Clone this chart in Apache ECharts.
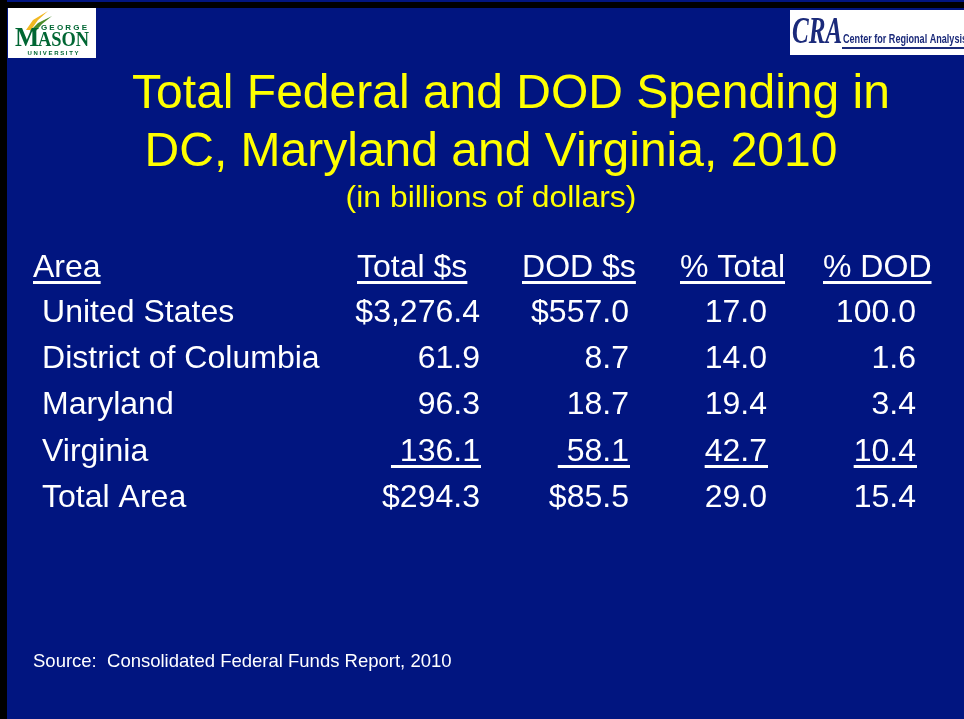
<!DOCTYPE html>
<html>
<head>
<meta charset="utf-8">
<script src="https://cdn.jsdelivr.net/npm/echarts@6/dist/echarts.min.js"></script>
<style>
  html, body { margin: 0; padding: 0; background: #011580; }
  #main { width: 964px; height: 719px; }
</style>
</head>
<body>
<div id="main"></div>
<script>
// table data
var headers = ['Area', 'Total $s', 'DOD $s', '% Total', '% DOD'];
var areas = ['United States', 'District of Columbia', 'Maryland', 'Virginia', 'Total Area'];
var totalSpend = [3276.4, 61.9, 96.3, 136.1, 294.3];
var dodSpend = [557.0, 8.7, 18.7, 58.1, 85.5];
var pctTotal = [17.0, 14.0, 19.4, 42.7, 29.0];
var pctDod = [100.0, 1.6, 3.4, 10.4, 15.4];
var dollarRows = [0, 4];      // rows shown with a $ sign
var underlinedRow = 3;        // Virginia row is underlined

var FONT = '"Liberation Sans", Arial, sans-serif';
var SERIF = '"Liberation Serif", serif';
var BG = '#011580';

var chart = echarts.init(document.getElementById('main'));

// width of a string, for the underlines
var ctx = document.createElement('canvas').getContext('2d');
function textWidth(str, font) {
  ctx.font = font;
  return ctx.measureText(str).width;
}

function fmt(v, dollar) {
  var s = v.toFixed(1).replace(/\B(?=(\d{3})+(?!\d))/g, ',');
  return dollar ? '$' + s : s;
}

// text at (x, y), optionally stretched horizontally by sx
function txt(str, x, y, font, color, align, sx) {
  return {
    type: 'text', x: x, y: y, scaleX: sx || 1,
    style: {
      text: str, x: 0, y: 0, fill: color, font: font,
      align: align || 'left', verticalAlign: 'middle'
    }
  };
}

function line(x1, x2, y, color, h) {
  return {
    type: 'rect',
    shape: { x: x1, y: y, width: x2 - x1, height: h || 3 },
    style: { fill: color || '#fff' }
  };
}

var g = [];
// frame
g.push({ type: 'rect', shape: { x: 0, y: 0, width: 964, height: 719 }, style: { fill: BG } });
g.push({ type: 'rect', shape: { x: 0, y: 0, width: 7, height: 719 }, style: { fill: '#000' } });
g.push({ type: 'rect', shape: { x: 0, y: 2, width: 964, height: 6 }, style: { fill: '#000' } });

// GMU logo
var GREEN = '#006633';
g.push({ type: 'rect', shape: { x: 8, y: 8, width: 88, height: 50 }, style: { fill: '#fff' } });
g.push({ type: 'polygon', shape: { points: [[26, 30], [33, 20], [48, 11], [38, 20], [31, 30]] }, style: { fill: '#f2b822' } });
g.push({ type: 'polygon', shape: { points: [[30, 31], [38, 23], [52, 16], [42, 24], [35, 32]] }, style: { fill: '#4a8c2a' } });
g.push(txt('G E O R G E', 64, 28, 'bold 8px ' + FONT, GREEN, 'center', 1));
g.push(txt('M', 15, 39, 'bold 27px ' + SERIF, GREEN, 'left', 0.95));
g.push(txt('ASON', 38, 41, 'bold 20px ' + SERIF, GREEN, 'left', 0.92));
g.push(txt('U N I V E R S I T Y', 53, 53, 'bold 6px ' + FONT, GREEN, 'center', 1));

// CRA logo
var NAVY = '#1b2a7a';
var craFont = 'bold 13px "Liberation Sans Narrow", ' + FONT;
var craLabel = 'Center for Regional Analysis';
g.push({ type: 'rect', shape: { x: 790, y: 10, width: 174, height: 45 }, style: { fill: '#fff' } });
g.push(txt('CRA', 792, 33, 'italic bold 38px ' + SERIF, NAVY, 'left', 0.66));
g.push(txt(craLabel, 843, 39, craFont, NAVY, 'left', 124 / textWidth(craLabel, craFont)));
g.push(line(842, 964, 47, NAVY, 2));

// titles
var YELLOW = '#ffff00';
var DY = 3;
g.push(txt('Total Federal and DOD Spending in', 511, 91.5 + DY, '48px ' + FONT, YELLOW, 'center'));
g.push(txt('DC, Maryland and Virginia, 2010', 491, 149.5 + DY, '48px ' + FONT, YELLOW, 'center'));
g.push(txt('(in billions of dollars)', 491, 197 + 2, '29px ' + FONT, YELLOW, 'center', 1.1));

// header row
var TF = '30.5px ' + FONT;
var SX = 1.05;
var colX = [33, 357, 522, 680, 823];  // header left edges
var valRight = [0, 480, 629, 767, 916]; // value right edges
headers.forEach(function (h, i) {
  g.push(txt(h, colX[i], 266 + DY, TF, '#fff', 'left', SX));
  g.push(line(colX[i], colX[i] + textWidth(h, TF) * SX, 281));
});

// body rows
var rowY = [311, 357, 403, 450, 496];
var cols = [totalSpend, dodSpend, pctTotal, pctDod];
areas.forEach(function (a, r) {
  g.push(txt(a, 42, rowY[r] + DY, TF, '#fff', 'left', SX));
  cols.forEach(function (arr, c) {
    var dollar = c < 2 && dollarRows.indexOf(r) >= 0;
    var s = fmt(arr[r], dollar);
    if (r === underlinedRow && c < 2) s = ' ' + s;
    var xr = valRight[c + 1];
    g.push(txt(s, xr, rowY[r] + DY, TF, '#fff', 'right', SX));
    if (r === underlinedRow) {
      g.push(line(xr - textWidth(s, TF) * SX, xr + 1, rowY[r] + 15));
    }
  });
});

// source
g.push(txt('Source:  Consolidated Federal Funds Report, 2010', 33, 662, '18.5px ' + FONT, '#fff'));

chart.setOption({
  backgroundColor: BG,
  animation: false,
  graphic: { elements: g }
});
</script>
</body>
</html>
